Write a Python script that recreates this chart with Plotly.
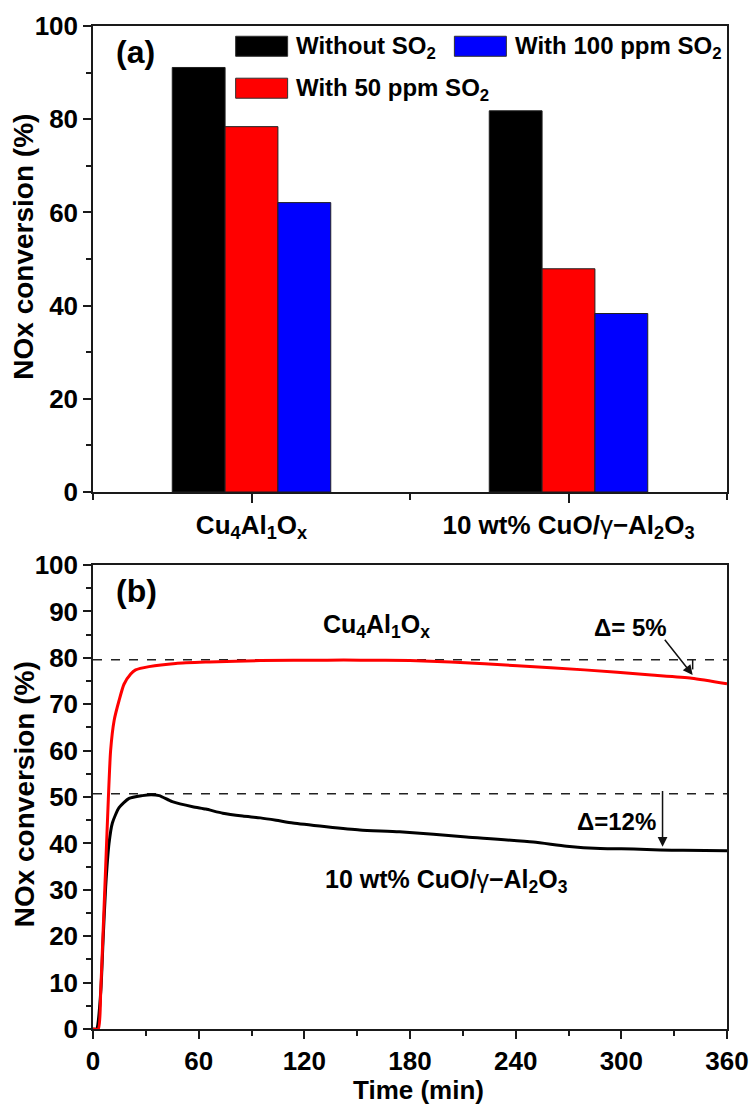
import plotly.graph_objects as go

# ---------------- data: panel (a) ----------------
categories = ["Cu<sub>4</sub>Al<sub>1</sub>O<sub>x</sub>",
              "10 wt% CuO/<span style='font-weight:normal'>γ</span>−Al<sub>2</sub>O<sub>3</sub>"]
series_names = ["Without SO<sub>2</sub>", "With 50 ppm SO<sub>2</sub>", "With 100 ppm SO<sub>2</sub>"]
without_so2 = [91.1, 81.8]
with_50ppm = [78.4, 47.9]
with_100ppm = [62.1, 38.3]
bar_colors = ["#000000", "#ff0000", "#0000ff"]

# ---------------- data: panel (b) ----------------
cu4_time = [0, 3, 4.4, 5.7, 7.2, 8.7, 10, 12, 14.8, 17.6, 21.4, 24.2, 31.8, 47, 66, 95,
            133, 152, 180, 203, 241, 279, 317, 340, 360]
cu4_conv = [0, 0, 8.4, 20.7, 35, 49.5, 60, 66.5, 70.8, 74.3, 76.5, 77.4, 78.1, 78.8, 79.1, 79.4,
            79.5, 79.5, 79.4, 79.1, 78.3, 77.4, 76.3, 75.6, 74.4]
cuo_time = [0, 2, 4.4, 5.7, 7.2, 9.1, 11, 14.8, 20.5, 28, 33, 37.6, 45, 56.6, 64, 73.7, 85,
            95, 104, 113.5, 132.5, 151.5, 174, 212, 250, 269, 288, 307, 322, 335, 360]
cuo_conv = [0, 0, 8, 19, 30.7, 40, 44.4, 47.7, 49.7, 50.3, 50.5, 50.3, 49.0, 47.9, 47.4, 46.5, 45.9,
            45.5, 45.0, 44.4, 43.6, 42.9, 42.5, 41.4, 40.3, 39.4, 38.9, 38.8, 38.6, 38.5, 38.4]
ref_time = [0, 360]
ref_levels = [79.6, 50.7]
curve_names = ["Cu<sub>4</sub>Al<sub>1</sub>O<sub>x</sub>",
               "10 wt% CuO/<span style='font-weight:normal'>γ</span>−Al<sub>2</sub>O<sub>3</sub>"]
y_title = "NOx conversion (%)"
x2_title = "Time (min)"

FONT = "Liberation Sans, Arial, sans-serif"
AX = "#1a1a1a"

fig = go.Figure()

xpos = list(range(len(categories)))
for name, vals, col in zip(series_names, [without_so2, with_50ppm, with_100ppm], bar_colors):
    fig.add_trace(go.Bar(x=xpos, y=vals, name=name, xaxis="x", yaxis="y",
                         marker=dict(color=col, line=dict(color="#202020", width=1)),
                         showlegend=False))

for lvl in ref_levels:
    fig.add_trace(go.Scatter(x=ref_time, y=[lvl, lvl], mode="lines", xaxis="x2", yaxis="y2",
                             line=dict(color="#222222", width=1.5, dash="dash"), showlegend=False))

fig.add_trace(go.Scatter(x=cuo_time, y=cuo_conv, mode="lines", name=curve_names[1],
                         xaxis="x2", yaxis="y2", line=dict(color="#000000", width=3, shape="spline",
                                                           smoothing=0.6),
                         showlegend=False))
fig.add_trace(go.Scatter(x=cu4_time, y=cu4_conv, mode="lines", name=curve_names[0],
                         xaxis="x2", yaxis="y2", line=dict(color="#ff0000", width=3, shape="spline",
                                                           smoothing=0.6),
                         showlegend=False))

# custom legend for panel (a)
legend_items = [
    (series_names[0], bar_colors[0], -0.05, 93.5, 97.8),
    (series_names[2], bar_colors[2], 0.64, 93.5, 97.8),
    (series_names[1], bar_colors[1], -0.05, 84.5, 88.8),
]
shapes = []
annotations = []
for name, col, x0, y0, y1 in legend_items:
    shapes.append(dict(type="rect", xref="x", yref="y", x0=x0, x1=x0 + 0.164, y0=y0, y1=y1,
                       fillcolor=col, line=dict(color="#303030", width=1)))
    annotations.append(dict(xref="x", yref="y", x=x0 + 0.185, y=(y0 + y1) / 2 - 0.3, text=name,
                            showarrow=False, xanchor="left", yanchor="middle",
                            font=dict(size=24, family=FONT, color="black", weight="bold")))

bold = lambda s: dict(size=s, family=FONT, color="black", weight="bold")
annotations += [
    dict(xref="x", yref="y", x=-0.365, y=94.5, text="(a)", showarrow=False, font=bold(32)),
    dict(xref="x2", yref="y2", x=24.5, y=94.3, text="(b)", showarrow=False, font=bold(32)),
    dict(xref="x2", yref="y2", x=161, y=86.8, text=curve_names[0], showarrow=False, font=bold(25)),
    dict(xref="x2", yref="y2", x=201, y=32.0, text=curve_names[1], showarrow=False, font=bold(25)),
    dict(xref="x2", yref="y2", x=305, y=86.6, text="Δ= 5%", showarrow=False, font=bold(24)),
    dict(xref="x2", yref="y2", x=297, y=44.8, text="Δ=12%", showarrow=False, font=bold(24)),
    # arrows
    dict(xref="x2", yref="y2", axref="x2", ayref="y2", x=340.5, y=76.3, ax=324, ay=84.2,
         text="", showarrow=True, arrowhead=2, arrowsize=1.3, arrowwidth=1.5, arrowcolor="#111"),
    dict(xref="x2", yref="y2", axref="x2", ayref="y2", x=323.4, y=39.3, ax=323.4, ay=51.6,
         text="", showarrow=True, arrowhead=2, arrowsize=1.3, arrowwidth=1.5, arrowcolor="#111"),
    # axis titles
    dict(xref="paper", yref="paper", x=-0.1088, y=0.780, text=y_title, textangle=-90,
         xanchor="center", yanchor="middle", showarrow=False, font=bold(28)),
    dict(xref="paper", yref="paper", x=-0.1088, y=0.234, text=y_title, textangle=-90,
         xanchor="center", yanchor="middle", showarrow=False, font=bold(28)),
    dict(xref="paper", yref="paper", x=0.514, y=-0.061, text=x2_title, showarrow=False,
         xanchor="center", yanchor="middle", font=bold(26)),
]
shapes.append(dict(type="line", xref="x2", yref="y2", x0=340.5, x1=340.5, y0=79.6, y1=77.5,
                   line=dict(color="#111", width=1.5)))

tickfont = bold(26)
common = dict(showline=True, linecolor=AX, linewidth=1.5, mirror=True, ticks="outside",
              tickcolor=AX, tickwidth=1.5, showgrid=False, zeroline=False,
              ticklabeloverflow="allow", automargin=False)
minor = lambda d: dict(dtick=d, ticklen=5, ticks="outside", tickcolor=AX, tickwidth=1.5)

fig.update_layout(
    width=753, height=1104,
    margin=dict(l=93, r=26, t=26, b=75),
    paper_bgcolor="white", plot_bgcolor="white",
    barmode="group", bargap=0.5, bargroupgap=0,
    font=dict(family=FONT, color="black"),
    shapes=shapes, annotations=annotations,
    xaxis=dict(domain=[0, 1], anchor="y", range=[-0.5, 1.5], tickvals=xpos, ticktext=categories,
               ticklen=9, tickfont=bold(26),
               minor=dict(tickvals=[-0.5, 0.5, 1.5], ticklen=6, ticks="outside", tickcolor=AX,
                          tickwidth=1.5), **common),
    yaxis=dict(domain=[0.5354, 1], anchor="x", range=[0, 100], dtick=20, ticklen=8,
               tickfont=tickfont, minor=minor(10), **common),
    xaxis2=dict(domain=[0, 1], anchor="y2", range=[0, 360], dtick=60, ticklen=8,
                tickfont=tickfont, minor=minor(30), **common),
    yaxis2=dict(domain=[0, 0.4626], anchor="x2", range=[0, 100], dtick=10, ticklen=8,
                tickfont=tickfont, minor=minor(5), **common),
)

# remove the page's default 8px body margin so the 753x1104 figure fills the window exactly
fig.write_html("out.html", config={"displayModeBar": False},
               post_script="document.body.style.margin='0';")
